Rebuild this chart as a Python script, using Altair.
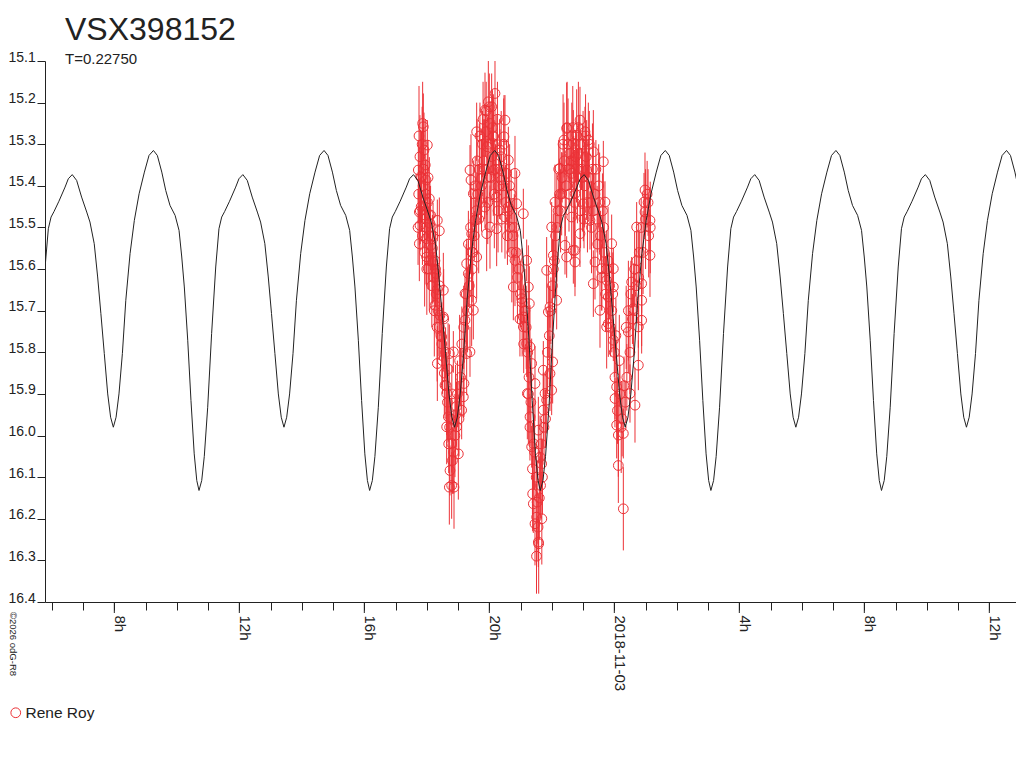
import altair as alt
import pandas as pd

FONT = "Liberation Sans"
RED = "#ec3237"
INK = "#222222"

TITLE = "VSX398152"
SUBTITLE = "T=0.22750"
OBSERVER = "Rene Roy"
CREDIT = "\u00a92026 odG-R8"

PERIOD_DAYS = 0.22750
EPOCH_HOURS = 10.71  # deep minimum, hours after 2018-11-02 00:00 UTC

# model light curve over one period (phase 0 = deep minimum)
phase = [0.000, 0.016, 0.031, 0.051, 0.074, 0.098, 0.117, 0.133, 0.150, 0.179,
         0.215, 0.234, 0.257, 0.283, 0.312, 0.342, 0.361, 0.386, 0.406, 0.425,
         0.445, 0.465, 0.482, 0.498, 0.514, 0.531, 0.551, 0.571, 0.596, 0.621,
         0.649, 0.680, 0.707, 0.733, 0.756, 0.782, 0.805, 0.830, 0.860, 0.883,
         0.899, 0.914, 0.934, 0.953, 0.972, 0.987]
phase_mag = [16.132, 16.108, 16.050, 15.932, 15.755, 15.595, 15.503, 15.475, 15.462, 15.437,
             15.403, 15.383, 15.373, 15.387, 15.427, 15.463, 15.487, 15.539, 15.619, 15.707,
             15.803, 15.900, 15.956, 15.980, 15.956, 15.900, 15.803, 15.675, 15.563, 15.483,
             15.419, 15.367, 15.327, 15.315, 15.327, 15.367, 15.411, 15.447, 15.471, 15.507,
             15.571, 15.643, 15.771, 15.916, 16.044, 16.108]

# observations (hours after 2018-11-02 00:00 UTC, magnitude, error)
run_a_hours = [17.867, 17.889, 18.017, 17.910, 17.729, 17.803, 17.974, 17.761, 18.081, 17.782,
               18.081, 17.761, 18.337, 18.401, 17.974, 18.123, 17.995, 18.187, 18.049, 18.294,
               18.337, 18.529, 18.262, 18.422, 18.529, 18.401, 18.475, 18.337, 18.721, 18.849,
               18.582, 18.635, 18.689, 18.635, 18.955, 18.795, 19.009, 18.742, 18.795, 18.870,
               18.721, 19.115, 19.169, 19.190, 19.275, 19.382, 19.222, 19.489, 19.435, 19.222,
               19.329, 19.275, 19.595, 19.435, 19.435, 19.542, 19.489, 19.414, 19.382, 19.595,
               19.915, 20.022, 19.862, 19.755, 20.022, 19.937, 19.862, 19.969, 20.075, 20.129]
run_a_mag = [15.250, 15.258, 15.302, 15.314, 15.362, 15.378, 15.386, 15.463, 15.431, 15.495,
             15.471, 15.539, 15.483, 15.508, 15.527, 15.543, 15.571, 15.583, 15.599, 15.611,
             15.649, 15.651, 15.687, 15.711, 15.715, 15.739, 15.763, 15.827, 15.803, 15.799,
             15.879, 15.899, 15.955, 15.979, 15.979, 16.019, 16.044, 16.084, 16.120, 16.124,
             16.124, 15.939, 15.907, 15.875, 15.803, 15.799, 15.723, 15.699, 15.675, 15.659,
             15.611, 15.587, 15.571, 15.559, 15.515, 15.483, 15.419, 15.386, 15.362, 15.270,
             15.515, 15.499, 15.451, 15.382, 15.378, 15.306, 15.218, 15.198, 15.210, 15.282]
run_a_err = [0.10, 0.08, 0.06, 0.09, 0.07, 0.11, 0.05, 0.08, 0.10, 0.06,
             0.07, 0.09, 0.05, 0.08, 0.11, 0.06, 0.07, 0.10, 0.05, 0.08,
             0.06, 0.09, 0.07, 0.05, 0.10, 0.08, 0.06, 0.09, 0.07, 0.05,
             0.08, 0.10, 0.06, 0.09, 0.05, 0.07, 0.11, 0.06, 0.08, 0.10,
             0.09, 0.07, 0.05, 0.08, 0.10, 0.06, 0.09, 0.07, 0.11, 0.05,
             0.08, 0.06, 0.10, 0.07, 0.09, 0.05, 0.08, 0.11, 0.06, 0.07,
             0.09, 0.10, 0.05, 0.08, 0.06, 0.07, 0.09, 0.10, 0.08, 0.06]

run_b_hours = [20.182, 20.502, 20.470, 20.107, 20.342, 20.609, 20.129, 20.395, 20.822, 20.235,
               20.609, 20.502, 20.875, 21.089, 20.235, 20.662, 20.822, 21.195, 20.769, 21.249,
               21.035, 21.281, 21.089, 21.089, 21.195, 21.302, 21.355, 21.462, 21.217, 21.302,
               21.355, 21.569, 21.622, 21.675, 21.387, 21.409, 21.515, 21.462, 21.569, 21.729,
               21.782, 21.729, 22.027, 21.835, 21.995, 21.942, 21.889, 21.942, 22.155, 21.835,
               22.049, 21.995, 22.102, 22.422, 22.475, 22.689, 22.315, 22.262, 22.390, 22.475,
               22.582, 22.689, 21.510]
run_b_mag = [15.178, 15.242, 15.282, 15.298, 15.314, 15.338, 15.362, 15.386, 15.370, 15.427,
             15.451, 15.475, 15.443, 15.467, 15.503, 15.499, 15.579, 15.579, 15.643, 15.643,
             15.671, 15.683, 15.715, 15.739, 15.779, 15.787, 15.827, 15.875, 15.899, 15.955,
             16.027, 15.987, 16.052, 16.068, 16.140, 16.164, 16.196, 16.212, 16.256, 15.939,
             15.899, 15.843, 15.823, 15.915, 15.891, 15.851, 15.703, 15.691, 15.675, 15.603,
             15.567, 15.499, 15.439, 15.543, 15.571, 15.555, 15.419, 15.358, 15.290, 15.262,
             15.322, 15.298, 16.290]
run_b_err = [0.09, 0.06, 0.10, 0.07, 0.05, 0.08, 0.11, 0.06, 0.09, 0.07,
             0.05, 0.10, 0.08, 0.06, 0.09, 0.07, 0.11, 0.05, 0.08, 0.10,
             0.06, 0.09, 0.07, 0.05, 0.08, 0.10, 0.06, 0.09, 0.11, 0.07,
             0.05, 0.08, 0.10, 0.06, 0.09, 0.07, 0.08, 0.10, 0.06, 0.09,
             0.05, 0.07, 0.10, 0.08, 0.06, 0.09, 0.11, 0.05, 0.07, 0.08,
             0.10, 0.06, 0.09, 0.07, 0.05, 0.08, 0.10, 0.06, 0.09, 0.11,
             0.07, 0.08, 0.09]

run_c_hours = [22.902, 22.795, 23.062, 23.169, 22.849, 23.329, 23.649, 22.635, 23.115, 22.742,
               23.009, 23.222, 22.635, 23.702, 22.902, 22.742, 22.742, 23.382, 23.915, 23.595,
               23.969, 23.329, 23.755, 23.969, 23.542, 23.809, 23.755, 23.969, 23.809, 24.555,
               24.609, 24.875, 24.875, 24.769, 24.875, 24.449, 24.715, 24.982, 24.950, 24.982,
               25.142, 25.142, 24.769, 24.662, 24.502, 24.075, 24.022, 24.075, 24.129, 24.289,
               24.129, 24.289]
run_c_mag = [15.242, 15.278, 15.270, 15.290, 15.322, 15.318, 15.342, 15.370, 15.362, 15.419,
             15.443, 15.483, 15.475, 15.439, 15.515, 15.555, 15.583, 15.583, 15.539, 15.599,
             15.599, 15.635, 15.627, 15.643, 15.699, 15.667, 15.739, 15.771, 15.731, 15.631,
             15.695, 15.635, 15.675, 15.739, 15.723, 15.751, 15.499, 15.410, 15.439, 15.463,
             15.483, 15.567, 15.831, 15.927, 15.899, 15.883, 15.911, 15.975, 15.999, 15.995,
             16.072, 16.176]
run_c_err = [0.08, 0.11, 0.06, 0.09, 0.07, 0.10, 0.05, 0.08, 0.12, 0.06,
             0.09, 0.07, 0.10, 0.05, 0.08, 0.11, 0.06, 0.09, 0.07, 0.10,
             0.05, 0.08, 0.12, 0.06, 0.09, 0.07, 0.10, 0.05, 0.08, 0.06,
             0.09, 0.07, 0.11, 0.05, 0.08, 0.10, 0.06, 0.09, 0.07, 0.05,
             0.08, 0.10, 0.06, 0.09, 0.07, 0.11, 0.05, 0.08, 0.10, 0.06,
             0.09, 0.10]

run_d_hours = [17.74, 17.78, 17.82, 17.85, 17.88, 17.92, 17.95, 17.98, 18.02, 18.06,
               18.10, 18.14, 18.18, 18.22, 18.26, 18.30, 18.36, 18.45, 18.50, 18.56,
               18.60, 18.66, 18.70, 18.77, 18.82, 18.90, 18.95, 19.03, 19.08,
               19.30, 19.36, 19.45, 19.52, 19.58, 19.63, 19.68, 19.72, 19.78, 19.82,
               19.88, 19.92, 19.98, 20.03, 20.08, 20.13, 20.20, 20.26, 20.30, 20.38,
               20.44, 20.55, 20.62, 20.70, 20.76, 20.86, 20.95, 21.00, 21.14, 21.23,
               21.27, 21.33, 21.42, 21.50, 21.56, 21.60, 21.66, 21.70,
               22.05, 22.12, 22.20, 22.25, 22.33, 22.40, 22.46, 22.52, 22.58, 22.64,
               22.70, 22.76, 22.82, 22.88, 22.95, 23.00, 23.05, 23.10, 23.18, 23.25,
               23.30, 23.38, 23.45, 23.50, 23.56, 23.62, 23.68, 23.75, 23.85, 23.92,
               24.00, 24.05, 24.18, 24.22, 24.35, 24.40, 24.50, 24.58, 24.65, 24.72,
               24.80, 25.05, 25.10]
run_d_mag = [15.42, 15.33, 15.45, 15.30, 15.40, 15.47, 15.35, 15.50, 15.44, 15.52,
             15.49, 15.58, 15.55, 15.62, 15.58, 15.66, 15.70, 15.76, 15.82, 15.85,
             15.80, 15.92, 16.02, 15.96, 16.06, 16.00, 15.93, 15.96, 15.86,
             15.70, 15.64, 15.60, 15.52, 15.46, 15.42, 15.36, 15.44, 15.30, 15.34,
             15.27, 15.38, 15.30, 15.25, 15.33, 15.28, 15.36, 15.24, 15.40, 15.33,
             15.40, 15.37, 15.46, 15.42, 15.52, 15.56, 15.60, 15.66, 15.70, 15.80,
             15.86, 15.92, 16.02, 16.10, 16.22, 16.15, 16.02, 16.10,
             15.60, 15.52, 15.46, 15.42, 15.38, 15.34, 15.40, 15.30, 15.36, 15.28,
             15.38, 15.33, 15.40, 15.30, 15.36, 15.30, 15.40, 15.33, 15.38, 15.44,
             15.36, 15.42, 15.48, 15.40, 15.52, 15.46, 15.56, 15.60, 15.64, 15.70,
             15.80, 15.76, 15.90, 15.98, 15.92, 15.86, 15.80, 15.72, 15.60, 15.58,
             15.56, 15.42, 15.52]
run_d_err = [0.07, 0.10, 0.06, 0.09, 0.05, 0.08, 0.11, 0.06, 0.09, 0.07,
             0.10, 0.05, 0.08, 0.06, 0.09, 0.07, 0.11, 0.05, 0.08, 0.10,
             0.06, 0.09, 0.07, 0.05, 0.08, 0.10, 0.06, 0.09, 0.07,
             0.10, 0.05, 0.08, 0.06, 0.09, 0.07, 0.11, 0.05, 0.08, 0.10,
             0.06, 0.09, 0.07, 0.05, 0.08, 0.10, 0.06, 0.09, 0.07, 0.11,
             0.05, 0.08, 0.10, 0.06, 0.09, 0.07, 0.05, 0.08, 0.10, 0.06,
             0.09, 0.07, 0.11, 0.05, 0.08, 0.10, 0.06, 0.09,
             0.07, 0.10, 0.05, 0.08, 0.06, 0.09, 0.07, 0.11, 0.05, 0.08,
             0.10, 0.06, 0.09, 0.07, 0.05, 0.08, 0.10, 0.06, 0.09, 0.07,
             0.11, 0.05, 0.08, 0.10, 0.06, 0.09, 0.07, 0.05, 0.08, 0.10,
             0.06, 0.09, 0.07, 0.11, 0.05, 0.08, 0.10, 0.06, 0.09, 0.07,
             0.05, 0.08, 0.10]

run_e_hours = [17.72, 17.75, 17.79, 17.83, 17.86, 17.90, 17.93, 17.96, 18.00, 18.04,
               18.08, 18.12, 18.16, 18.20, 18.24, 18.28, 18.33, 18.40, 18.48, 18.54,
               18.62, 18.68, 18.73, 18.80, 18.86, 18.92, 18.98, 19.05, 19.12, 19.18,
               19.26, 19.33, 19.40, 19.47, 19.55, 19.61, 19.66, 19.70, 19.75, 19.80,
               19.85, 19.90, 19.95, 20.00, 20.05, 20.10, 20.16, 20.22, 20.28, 20.33,
               20.40, 20.46, 20.52, 20.58, 20.65, 20.72, 20.80, 20.90, 20.98, 21.05,
               21.10, 21.18, 21.25, 21.30, 21.38, 21.45, 21.53, 21.58, 21.64, 21.68,
               21.75, 21.80, 21.86, 21.92, 21.97,
               22.02, 22.08, 22.16, 22.22, 22.28, 22.36, 22.43, 22.49, 22.55, 22.61,
               22.67, 22.73, 22.79, 22.85, 22.92, 22.98, 23.03, 23.08, 23.14, 23.20,
               23.27, 23.34, 23.41, 23.47, 23.53, 23.60, 23.66, 23.72, 23.80, 23.88,
               23.95, 24.02, 24.10, 24.16, 24.25, 24.31, 24.38, 24.45, 24.53, 24.62,
               24.70, 24.78, 24.86, 24.92, 25.00, 25.08, 25.15]
run_e_mag = [15.50, 15.28, 15.46, 15.38, 15.52, 15.36, 15.56, 15.42, 15.60, 15.38,
             15.58, 15.47, 15.64, 15.52, 15.70, 15.60, 15.74, 15.64, 15.78, 15.72,
             15.88, 15.84, 15.98, 15.90, 16.04, 15.95, 15.90, 15.82, 15.78, 15.74,
             15.66, 15.54, 15.50, 15.56, 15.40, 15.34, 15.48, 15.28, 15.40, 15.24,
             15.36, 15.22, 15.44, 15.21, 15.38, 15.26, 15.42, 15.30, 15.46, 15.36,
             15.48, 15.30, 15.44, 15.52, 15.40, 15.56, 15.50, 15.62, 15.72, 15.68,
             15.78, 15.74, 15.90, 15.98, 16.08, 16.04, 16.16, 16.26, 16.12, 16.20,
             15.98, 15.96, 15.80, 15.76, 15.70,
             15.64, 15.58, 15.50, 15.36, 15.46, 15.30, 15.44, 15.26, 15.42, 15.34,
             15.26, 15.44, 15.36, 15.26, 15.46, 15.38, 15.48, 15.28, 15.44, 15.30,
             15.50, 15.46, 15.36, 15.54, 15.44, 15.62, 15.50, 15.66, 15.58, 15.74,
             15.66, 15.86, 15.94, 15.82, 15.96, 15.88, 15.74, 15.70, 15.66, 15.70,
             15.64, 15.62, 15.50, 15.56, 15.48, 15.44, 15.50]
run_e_err = [0.09, 0.12, 0.08, 0.11, 0.07, 0.10, 0.13, 0.08, 0.11, 0.09,
             0.12, 0.07, 0.10, 0.08, 0.11, 0.09, 0.13, 0.07, 0.10, 0.12,
             0.08, 0.11, 0.09, 0.07, 0.10, 0.12, 0.08, 0.11, 0.09, 0.10,
             0.12, 0.08, 0.11, 0.09, 0.07, 0.10, 0.13, 0.08, 0.11, 0.09,
             0.12, 0.07, 0.10, 0.08, 0.11, 0.09, 0.13, 0.07, 0.10, 0.12,
             0.08, 0.11, 0.09, 0.07, 0.10, 0.12, 0.08, 0.11, 0.09, 0.13,
             0.07, 0.10, 0.12, 0.08, 0.11, 0.09, 0.10, 0.12, 0.08, 0.11,
             0.09, 0.07, 0.10, 0.12, 0.08,
             0.11, 0.09, 0.13, 0.07, 0.10, 0.12, 0.08, 0.11, 0.09, 0.07,
             0.10, 0.12, 0.08, 0.11, 0.09, 0.13, 0.07, 0.10, 0.12, 0.08,
             0.11, 0.09, 0.07, 0.10, 0.12, 0.08, 0.11, 0.09, 0.13, 0.07,
             0.10, 0.12, 0.08, 0.11, 0.09, 0.07, 0.10, 0.12, 0.08, 0.11,
             0.09, 0.13, 0.07, 0.10, 0.12, 0.08, 0.11]

y_ticks = [15.1, 15.2, 15.3, 15.4, 15.5, 15.6, 15.7, 15.8, 15.9, 16.0, 16.1, 16.2, 16.3, 16.4]
minor_tick_hours = list(range(6, 37))          # hourly ticks, 06h on 2018-11-02 to 12h on 2018-11-03
major_tick_hours = [8, 12, 16, 20, 24, 28, 32, 36]

BASE = pd.Timestamp("2018-11-02T00:00:00Z")


def iso(h):
    return (BASE + pd.Timedelta(hours=float(h))).strftime("%Y-%m-%dT%H:%M:%S") + "Z"


def msec(h):
    return int((BASE + pd.Timedelta(hours=float(h))).timestamp() * 1000)


rows = []
for hs, ms, es in [(run_a_hours, run_a_mag, run_a_err), (run_b_hours, run_b_mag, run_b_err),
                   (run_c_hours, run_c_mag, run_c_err), (run_d_hours, run_d_mag, run_d_err),
                   (run_e_hours, run_e_mag, run_e_err)]:
    n = min(len(hs), len(ms), len(es))
    for i in range(n):
        rows.append({"t": iso(hs[i]), "mag": ms[i], "lo": round(ms[i] - es[i], 3),
                     "hi": round(ms[i] + es[i], 3), "observer": OBSERVER})
obs = pd.DataFrame(rows)

P = PERIOD_DAYS * 24
crows = []
for k in range(-1, 5):
    for ph, m in zip(phase, phase_mag):
        crows.append({"t": iso(EPOCH_HOURS + (k + ph) * P), "mag": m})
curve_df = pd.DataFrame(crows)

major_df = pd.DataFrame({"t": [iso(h) for h in major_tick_hours]})

xscale = alt.Scale(type="utc", domain=[msec(5.782), msec(36.854)])
yscale = alt.Scale(domain=[15.1, 16.4], reverse=True, zero=False, nice=False)

xaxis = alt.Axis(
    title=None, grid=False, values=[msec(h) for h in minor_tick_hours],
    labelExpr="utchours(datum.value) == 0 ? utcFormat(datum.value, '%Y-%m-%d') : "
              "(utchours(datum.value) % 4 == 0 ? utchours(datum.value) + 'h' : '')",
    labelAngle=90, labelAlign="left", labelBaseline="alphabetic", labelPadding=5,
    labelFont=FONT, labelFontSize=15, labelColor=INK, labelOverlap=False,
    tickSize=8, tickColor=INK, domainColor=INK)
yaxis = alt.Axis(
    title=None, grid=False, values=y_ticks, format=".1f",
    labelAlign="left", labelBaseline="alphabetic", labelPadding=29,
    labelFont=FONT, labelFontSize=14, labelColor=INK, labelOverlap=False,
    tickSize=8, tickColor=INK, domainColor=INK)

X = alt.X("t:T", scale=xscale, axis=xaxis)

bars = alt.Chart(obs).mark_rule(color=RED, strokeWidth=1, clip=True).encode(
    x=X, y=alt.Y("lo:Q", scale=yscale, axis=yaxis), y2="hi")

points = alt.Chart(obs).mark_point(shape="circle", filled=False, size=95, strokeWidth=1,
                                   opacity=1, clip=True).encode(
    x=X, y=alt.Y("mag:Q", scale=yscale, axis=yaxis),
    color=alt.Color("observer:N", scale=alt.Scale(range=[RED]),
                    legend=alt.Legend(title=None, orient="none", legendX=-37, legendY=644,
                                      padding=0, symbolType="circle", symbolSize=95,
                                      symbolStrokeWidth=1, labelFont=FONT, labelFontSize=15.5,
                                      labelColor=INK, labelOffset=2)))

curve = alt.Chart(curve_df).mark_line(color=INK, strokeWidth=1, clip=True).encode(
    x=X, y=alt.Y("mag:Q", scale=yscale, axis=yaxis))

majors = alt.Chart(major_df).mark_rule(color=INK, strokeWidth=1).encode(
    x=X, y=alt.value(541), y2=alt.value(552))

title_t = alt.Chart(pd.DataFrame({"s": [TITLE]})).mark_text(
    align="left", baseline="alphabetic", font=FONT, fontSize=32, color=INK).encode(
    x=alt.value(20), y=alt.value(-20.7), text="s:N")
sub_t = alt.Chart(pd.DataFrame({"s": [SUBTITLE]})).mark_text(
    align="left", baseline="alphabetic", font=FONT, fontSize=15, color=INK).encode(
    x=alt.value(20), y=alt.value(2.6), text="s:N")
credit_t = alt.Chart(pd.DataFrame({"s": [CREDIT]})).mark_text(
    align="left", baseline="bottom", angle=90, font=FONT, fontSize=9.5, color=INK).encode(
    x=alt.value(-37), y=alt.value(551), text="s:N")

chart = alt.layer(bars, points, curve, majors, title_t, sub_t, credit_t).properties(
    width=971, height=541,
    autosize=alt.AutoSizeParams(type="none"),
    padding={"left": 37, "top": 53, "right": 0, "bottom": 140},
    background="white",
).configure_view(strokeWidth=0)

chart.save("out.html", embed_options={"renderer": "svg", "actions": False})
